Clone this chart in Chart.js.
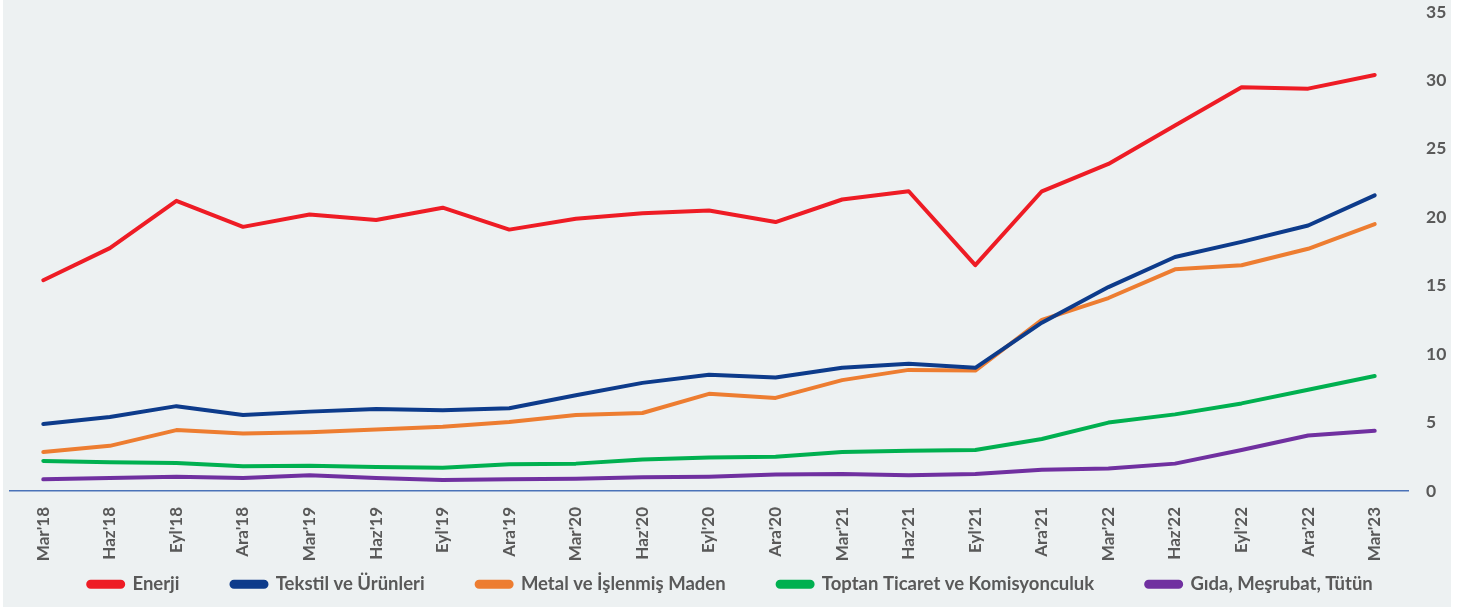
<!DOCTYPE html>
<html>
<head>
<meta charset="utf-8">
<script src="https://cdn.jsdelivr.net/npm/chart.js@4"></script>
<style>
  body { margin: 0; background: #ffffff; }
  .wrap { position: absolute; left: 3px; top: 0; width: 1448px; height: 607px; background: #edf1f2; }
</style>
</head>
<body>
<div class="wrap"><canvas id="chart" width="1448" height="607"></canvas></div>
<script>
const labels = ["Mar'18","Haz'18","Eyl'18","Ara'18","Mar'19","Haz'19","Eyl'19","Ara'19","Mar'20","Haz'20","Eyl'20","Ara'20","Mar'21","Haz'21","Eyl'21","Ara'21","Mar'22","Haz'22","Eyl'22","Ara'22","Mar'23"];
const enerji  = [15.4,17.75,21.2,19.3,20.2,19.8,20.7,19.1,19.9,20.3,20.5,19.65,21.3,21.9,16.5,21.9,23.9,26.7,29.5,29.4,30.4];
const tekstil = [4.9,5.4,6.2,5.55,5.8,6.0,5.9,6.05,7.0,7.9,8.5,8.3,9.0,9.3,9.0,12.3,14.9,17.1,18.2,19.4,21.6];
const metal   = [2.85,3.3,4.45,4.2,4.3,4.5,4.7,5.05,5.55,5.7,7.1,6.8,8.1,8.85,8.8,12.5,14.1,16.2,16.5,17.7,19.5];
const toptan  = [2.2,2.1,2.05,1.8,1.85,1.75,1.7,1.95,2.0,2.3,2.45,2.5,2.85,2.95,3.0,3.8,5.0,5.6,6.4,7.4,8.4];
const gida    = [0.85,0.95,1.05,0.95,1.15,0.95,0.8,0.85,0.9,1.0,1.05,1.2,1.25,1.15,1.25,1.55,1.65,2.0,3.0,4.05,4.4];

const FONT = 'Lato';
const LEGEND_H = 40;   // space kept for the legend
const LEGEND_Y = 575;  // top of the legend row

const mk = (label, data, color) => ({
  label, data,
  borderColor: color, backgroundColor: color,
  borderWidth: 4, pointRadius: 0, tension: 0, fill: false,
  borderCapStyle: 'round', borderJoinStyle: 'round'
});

// wide gaps between legend items without the tall padding above/below
const legendTweak = {
  id: 'legendTweak',
  afterInit(chart) {
    const lg = chart.legend;
    const fit = lg.fit.bind(lg);
    lg.fit = function () { fit(); this.height = LEGEND_H; };
    const draw = lg.draw.bind(lg);
    lg.draw = function () {
      const t = this.top;
      this.top = LEGEND_Y - this.options.labels.padding;
      draw();
      this.top = t;
    };
  }
};

const ctx = document.getElementById('chart').getContext('2d');
new Chart(ctx, {
  type: 'line',
  data: {
    labels,
    datasets: [
      mk('Enerji', enerji, '#ee1c25'),
      mk('Tekstil ve Ürünleri', tekstil, '#0d3b8b'),
      mk('Metal ve İşlenmiş Maden', metal, '#ed7d31'),
      mk('Toptan Ticaret ve Komisyonculuk', toptan, '#00b050'),
      mk('Gıda, Meşrubat, Tütün', gida, '#7030a0')
    ]
  },
  plugins: [legendTweak],
  options: {
    responsive: false,
    animation: false,
    layout: { padding: { left: 7, right: 0, top: 3, bottom: 0 } },
    plugins: {
      tooltip: { enabled: false },
      legend: {
        position: 'bottom',
        labels: {
          boxWidth: 35, boxHeight: 5, padding: 52,
          useBorderRadius: true, borderRadius: 2.5,
          color: '#595959',
          font: { family: FONT, size: 18.5, weight: 'bold' }
        }
      }
    },
    scales: {
      x: {
        offset: true,
        grid: { display: false, drawTicks: false },
        border: { display: true, color: '#4a72b8', width: 1.5 },
        ticks: {
          autoSkip: false,
          minRotation: 90, maxRotation: 90, padding: 16,
          color: '#595959',
          font: { family: FONT, size: 17, weight: 'bold' }
        },
        afterFit(s) { s.height = 607 - LEGEND_H - 491; }
      },
      y: {
        position: 'right',
        min: 0, max: 35,
        grid: { display: false, drawTicks: false },
        border: { display: false },
        ticks: {
          stepSize: 5, padding: 18,
          color: '#595959',
          font: { family: FONT, size: 17.5, weight: 'bold' }
        },
        afterFit(s) { s.width = 43; s.paddingTop = 12; s.paddingBottom = 0; }
      }
    }
  }
});
</script>
</body>
</html>
